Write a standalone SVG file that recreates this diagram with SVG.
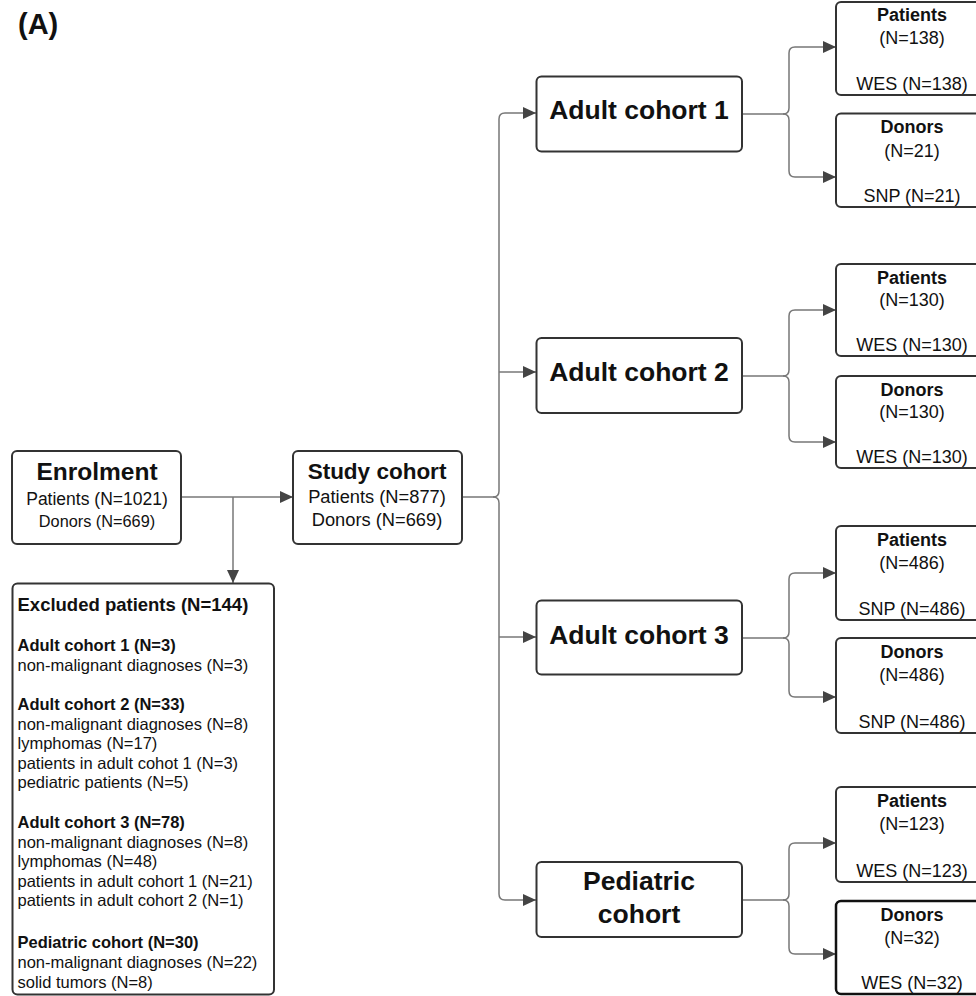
<svg xmlns="http://www.w3.org/2000/svg" width="976" height="996" viewBox="0 0 976 996">
<defs>
<marker id="arr" markerUnits="userSpaceOnUse" markerWidth="14" markerHeight="12" refX="13" refY="6" orient="auto">
<path d="M0,0 L13,6 L0,12 Z" fill="#444"/>
</marker>
<style>
.box{fill:#fff;stroke:#333;stroke-width:2}
.con{fill:none;stroke:#777;stroke-width:1.5}
.arrow{marker-end:url(#arr)}
text{font-family:"Liberation Sans",Arial,sans-serif;fill:#111}
.b{font-weight:bold}
.c{text-anchor:middle}
.big{font-size:26.5px;font-weight:bold}
.r{font-size:18px}
.e{font-size:16.5px}
</style>
</defs>
<rect width="976" height="996" fill="#fff"/>
<text x="18" y="34" class="b" style="font-size:29px">(A)</text>

<g id="connectors">
<path class="con arrow" d="M181,497 H293"/>
<path class="con arrow" d="M233,497 V583"/>
<path class="con arrow" d="M462,497 H493 Q499,497 499,491 V119 Q499,113 505,113 H536"/>
<path class="con arrow" d="M493,497 Q499,497 499,503 V894 Q499,900 505,900 H536"/>
<path class="con arrow" d="M499,372 H536"/>
<path class="con arrow" d="M499,637 H536"/>

<path class="con arrow" d="M742,114 H783 Q789,114 789,108 V53 Q789,47 795,47 H836"/>
<path class="con arrow" d="M783,114 Q789,114 789,120 V171 Q789,177 795,177 H836"/>
<path class="con arrow" d="M742,376 H783 Q789,376 789,370 V316 Q789,310 795,310 H836"/>
<path class="con arrow" d="M783,376 Q789,376 789,382 V436 Q789,442 795,442 H836"/>
<path class="con arrow" d="M742,638 H783 Q789,638 789,632 V579 Q789,573 795,573 H836"/>
<path class="con arrow" d="M783,638 Q789,638 789,644 V691 Q789,697 795,697 H836"/>
<path class="con arrow" d="M742,900 H783 Q789,900 789,894 V849 Q789,843 795,843 H836"/>
<path class="con arrow" d="M783,900 Q789,900 789,906 V948 Q789,954 795,954 H836"/>
</g>

<g id="enrolment">
<rect class="box" x="12" y="451" width="169" height="93" rx="5"/>
<text x="97" y="480" class="c b" style="font-size:24.5px">Enrolment</text>
<text x="97" y="505" class="c" style="font-size:17.5px">Patients (N=1021)</text>
<text x="97" y="527" class="c" style="font-size:16.3px">Donors (N=669)</text>
</g>

<g id="study">
<rect class="box" x="293" y="451" width="169" height="93" rx="5"/>
<text x="377" y="479" class="c b" style="font-size:22.5px">Study cohort</text>
<text x="377" y="503" class="c" style="font-size:18.3px">Patients (N=877)</text>
<text x="377" y="526" class="c" style="font-size:18.3px">Donors (N=669)</text>
</g>

<g id="excluded">
<rect class="box" x="12.5" y="583.5" width="261.5" height="411" rx="5"/>
<text x="17.5" y="611" class="b" style="font-size:18.5px">Excluded patients (N=144)</text>
<text x="17.5" y="651" class="e b">Adult cohort 1 (N=3)</text>
<text x="17.5" y="670.5" class="e">non-malignant diagnoses (N=3)</text>
<text x="17.5" y="710" class="e b">Adult cohort 2 (N=33)</text>
<text x="17.5" y="729.5" class="e">non-malignant diagnoses (N=8)</text>
<text x="17.5" y="749" class="e">lymphomas (N=17)</text>
<text x="17.5" y="768.5" class="e">patients in adult cohot 1 (N=3)</text>
<text x="17.5" y="788" class="e">pediatric patients (N=5)</text>
<text x="17.5" y="828" class="e b">Adult cohort 3 (N=78)</text>
<text x="17.5" y="847.5" class="e">non-malignant diagnoses (N=8)</text>
<text x="17.5" y="867" class="e">lymphomas (N=48)</text>
<text x="17.5" y="886.5" class="e">patients in adult cohort 1 (N=21)</text>
<text x="17.5" y="906" class="e">patients in adult cohort 2 (N=1)</text>
<text x="17.5" y="948" class="e b">Pediatric cohort (N=30)</text>
<text x="17.5" y="968" class="e">non-malignant diagnoses (N=22)</text>
<text x="17.5" y="988" class="e">solid tumors (N=8)</text>
</g>

<g id="adult1">
<rect class="box" x="536.5" y="76.5" width="205.5" height="75" rx="5"/>
<text x="639" y="119" class="c big">Adult cohort 1</text>
</g>
<g id="adult2">
<rect class="box" x="536.5" y="338" width="205.5" height="75" rx="5"/>
<text x="639" y="381" class="c big">Adult cohort 2</text>
</g>
<g id="adult3">
<rect class="box" x="536.5" y="600.5" width="205.5" height="74" rx="5"/>
<text x="639" y="644" class="c big">Adult cohort 3</text>
</g>
<g id="pediatric">
<rect class="box" x="536.5" y="862" width="205.5" height="75" rx="5"/>
<text x="639" y="890" class="c big">Pediatric</text>
<text x="639" y="923" class="c big">cohort</text>
</g>

<g id="patients1">
<rect class="box" x="836" y="2" width="152" height="93" rx="5"/>
<text x="912" y="21" class="c r b">Patients</text>
<text x="912" y="44" class="c r">(N=138)</text>
<text x="912" y="90" class="c r">WES (N=138)</text>
</g>
<g id="donors1">
<rect class="box" x="836" y="113.5" width="152" height="93.5" rx="5"/>
<text x="912" y="133" class="c r b">Donors</text>
<text x="912" y="157" class="c r">(N=21)</text>
<text x="912" y="202" class="c r">SNP (N=21)</text>
</g>
<g id="patients2">
<rect class="box" x="836" y="264" width="152" height="92" rx="5"/>
<text x="912" y="283.5" class="c r b">Patients</text>
<text x="912" y="306" class="c r">(N=130)</text>
<text x="912" y="351" class="c r">WES (N=130)</text>
</g>
<g id="donors2">
<rect class="box" x="836" y="376" width="152" height="92" rx="5"/>
<text x="912" y="396" class="c r b">Donors</text>
<text x="912" y="418" class="c r">(N=130)</text>
<text x="912" y="463" class="c r">WES (N=130)</text>
</g>
<g id="patients3">
<rect class="box" x="836" y="526" width="152" height="94" rx="5"/>
<text x="912" y="546" class="c r b">Patients</text>
<text x="912" y="569" class="c r">(N=486)</text>
<text x="912" y="615" class="c r">SNP (N=486)</text>
</g>
<g id="donors3">
<rect class="box" x="836" y="638" width="152" height="95" rx="5"/>
<text x="912" y="658" class="c r b">Donors</text>
<text x="912" y="681" class="c r">(N=486)</text>
<text x="912" y="728" class="c r">SNP (N=486)</text>
</g>
<g id="patients4">
<rect class="box" x="836" y="787" width="152" height="95" rx="5"/>
<text x="912" y="807" class="c r b">Patients</text>
<text x="912" y="830" class="c r">(N=123)</text>
<text x="912" y="877" class="c r">WES (N=123)</text>
</g>
<g id="donors4">
<rect class="box" x="836" y="901" width="152" height="93" rx="5" style="stroke:#111;stroke-width:2.5"/>
<text x="912" y="921" class="c r b">Donors</text>
<text x="912" y="944" class="c r">(N=32)</text>
<text x="912" y="989" class="c r">WES (N=32)</text>
</g>
</svg>
